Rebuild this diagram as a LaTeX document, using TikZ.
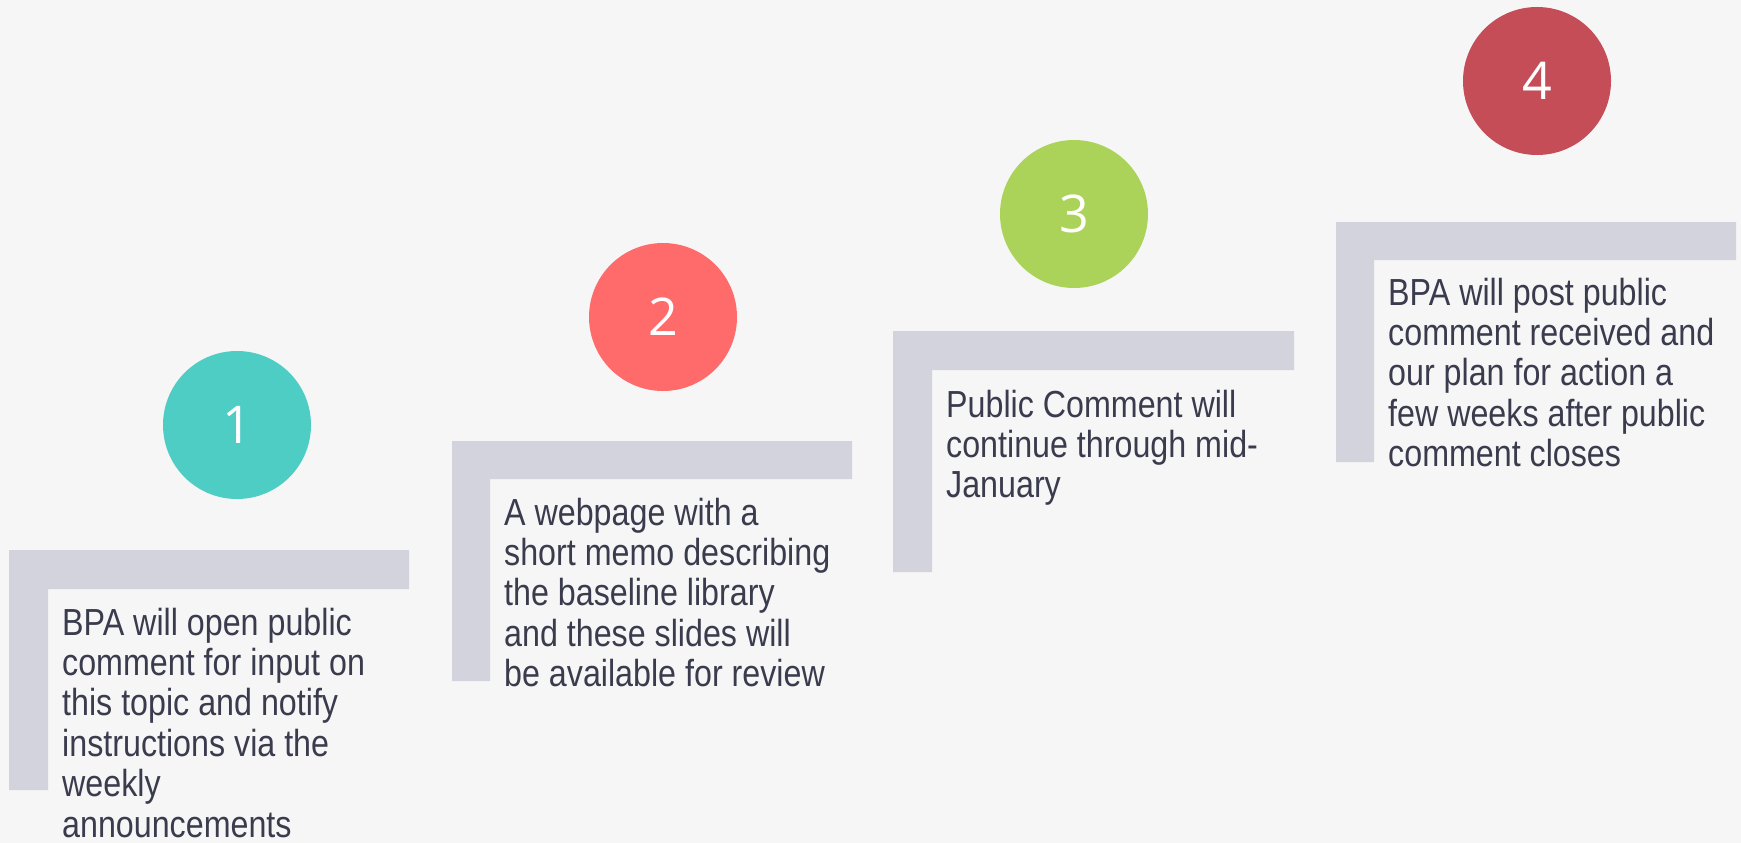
\documentclass[tikz,border=0pt]{standalone}
\usepackage{fontspec}
\setmainfont{Liberation Sans}[FakeStretch=0.855]
\newfontfamily\numfont{Open Sans}
\definecolor{bg}{HTML}{F6F6F6}
\definecolor{bar}{HTML}{D3D3DE}
\definecolor{txt}{HTML}{3A3C4E}
\definecolor{cA}{HTML}{4ECDC4}
\definecolor{cB}{HTML}{FF6B6B}
\definecolor{cC}{HTML}{ABD35A}
\definecolor{cD}{HTML}{C44D58}
\tikzset{
  numcirc/.style={circle, minimum size=148pt, inner sep=0pt, text=white, font=\numfont\fontsize{52}{52}\selectfont},
  stepbar/.style={fill=bar, draw=none},
  steptext/.style={anchor=base west, inner sep=0pt, align=left, text=txt, font=\fontsize{37.7}{40.4}\selectfont}
}
\begin{document}
\begin{tikzpicture}[x=1pt,y=-1pt]
\useasboundingbox (0,0) rectangle (1741,843);
\fill[bg] (0,0) rectangle (1741,843);
\clip (0,0) rectangle (1741,843);
% step 1
\fill[stepbar] (9,550) -- (409,550) -- (409,589) -- (48,589) -- (48,790) -- (9,790) -- cycle;
\node[numcirc, fill=cA] (c1) at (237,425) {1};
\node[steptext] (t1) at (62,837) {BPA will open public\\comment for input on\\this topic and notify\\instructions via the\\weekly\\announcements};
% step 2
\fill[stepbar] (452,441) -- (852,441) -- (852,479) -- (490,479) -- (490,681) -- (452,681) -- cycle;
\node[numcirc, fill=cB] (c2) at (663,317) {2};
\node[steptext] (t2) at (504,686.6) {A webpage with a\\short memo describing\\the baseline library\\and these slides will\\be available for review};
% step 3
\fill[stepbar] (893,331) -- (1294,331) -- (1294,370) -- (932,370) -- (932,572) -- (893,572) -- cycle;
\node[numcirc, fill=cC] (c3) at (1074,214) {3};
\node[steptext] (t3) at (946,497.8) {Public Comment will\\continue through mid-\\January};
% step 4
\fill[stepbar] (1336,222) -- (1736,222) -- (1736,260) -- (1374,260) -- (1374,462) -- (1336,462) -- cycle;
\node[numcirc, fill=cD] (c4) at (1537,81) {4};
\node[steptext] (t4) at (1388,466.6) {BPA will post public\\comment received and\\our plan for action a\\few weeks after public\\comment closes};
\end{tikzpicture}
\end{document}
